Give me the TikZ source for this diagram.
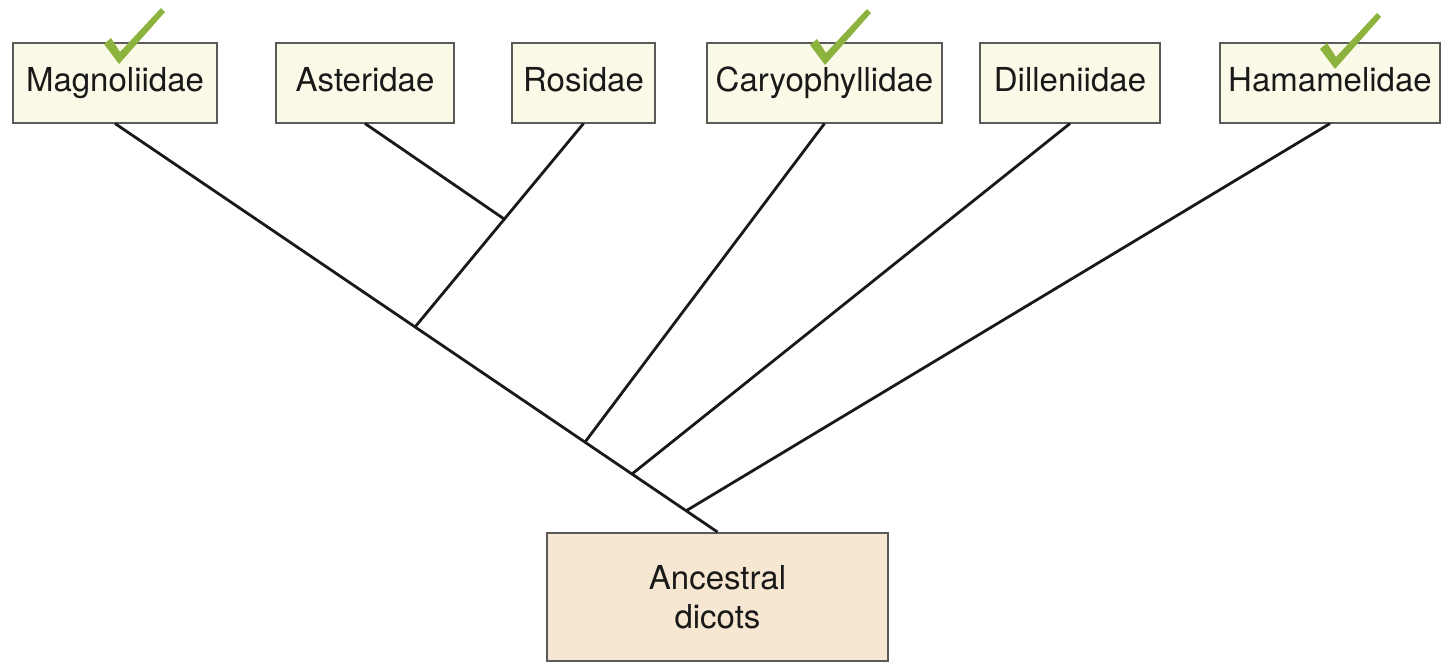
\documentclass[tikz,border=0pt]{standalone}
\usepackage{fontspec}
\setmainfont{TeX Gyre Heros}
\usetikzlibrary{calc}
\definecolor{boxcream}{HTML}{FBFAE8}
\definecolor{boxpeach}{HTML}{F6E7D2}
\definecolor{boxline}{HTML}{5A5A5A}
\definecolor{tickgreen}{HTML}{8DB33F}
\begin{document}
\begin{tikzpicture}[x=0.5pt,y=-0.5pt,
    taxon/.style={draw=boxline,line width=1pt,fill=boxcream,inner sep=0pt,
      minimum height=40pt,text height=12pt,text depth=3.5pt,text=black!90,
      font=\fontsize{16.5}{19.5}\selectfont},
    ancestor/.style={taxon,fill=boxpeach,align=center,minimum height=64pt,
      text height=,text depth=},
    branch/.style={line width=1.4pt,black!90},
    tick/.pic={\fill[tickgreen] (0,3) -- (-15,-17) -- (-8,-23) -- (1,-9)
      -- (42,-53) -- (46,-49) -- cycle;}]
  \useasboundingbox (0,0) rectangle (1441,661);
  % taxa
  \node[taxon,minimum width=102pt] (magno) at (115,82.5) {Magnoliidae};
  \node[taxon,minimum width=89pt] (aster) at (365,82.5) {Asteridae};
  \node[taxon,minimum width=71.5pt] (rosid) at (583.5,82.5) {Rosidae};
  \node[taxon,minimum width=117.5pt] (caryo) at (824.5,82.5) {Caryophyllidae};
  \node[taxon,minimum width=90pt] (dillen) at (1070,82.5) {Dilleniidae};
  \node[taxon,minimum width=110pt] (hamam) at (1330,82.5) {Hamamelidae};
  \node[ancestor,minimum width=170.5pt] (anc) at (717.5,597) {Ancestral\\dicots};
  % junctions
  \path (magno.south) -- (anc.north)
    coordinate[pos=0.498] (j1) coordinate[pos=0.78] (j2)
    coordinate[pos=0.858] (j3) coordinate[pos=0.948] (j4);
  \path (rosid.south) -- (j1) coordinate[pos=0.47] (j0);
  % branches
  \draw[branch] (magno.south) -- (anc.north);
  \draw[branch] (aster.south) -- (j0);
  \draw[branch] (rosid.south) -- (j1);
  \draw[branch] (caryo.south) -- (j2);
  \draw[branch] (dillen.south) -- (j3);
  \draw[branch] (hamam.south) -- (j4);
  % ticks
  \pic at (119,61) {tick};
  \pic at (825,62) {tick};
  \pic at (1335,66) {tick};
\end{tikzpicture}
\end{document}
